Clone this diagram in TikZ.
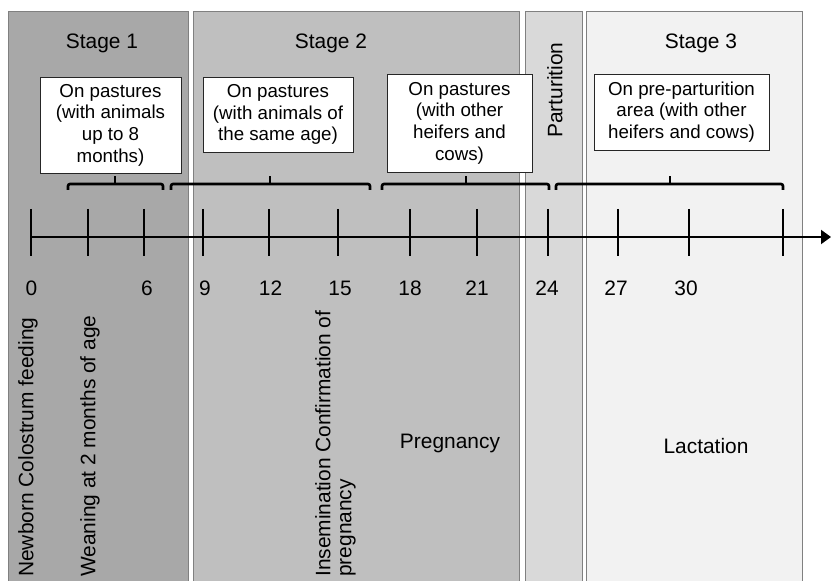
\documentclass[tikz,border=0pt]{standalone}
\usepackage{fontspec}
\setmainfont{Liberation Sans}
\usetikzlibrary{arrows.meta}

\definecolor{stageone}{gray}{0.66}
\definecolor{stagetwo}{gray}{0.75}
\definecolor{birth}{gray}{0.85}
\definecolor{stagethree}{gray}{0.95}

\tikzset{
	panel/.style={draw=black!50,line width=0.9bp},
	infobox/.style={draw=black!85,fill=white,line width=0.9bp,inner sep=0pt,align=center,font=\fontsize{18.8}{21.7}\selectfont},
	label/.style={inner sep=0pt,font=\fontsize{21}{21}\selectfont},
	sidetext/.style={label,rotate=90,anchor=north west,align=left},
	bracket/.style={line width=2.6bp,rounded corners=2bp},
	tick/.style={line width=2bp}
}

\begin{document}
\begin{tikzpicture}[x=1bp,y=-1bp]
	\useasboundingbox (0,0) rectangle (831,581);
	\fill[white] (0,0) rectangle (831,581);
	
	% stages
	\filldraw[panel,fill=stageone] (8,11) rectangle (188,590);
	\filldraw[panel,fill=stagetwo] (193,11) rectangle (519,590);
	\filldraw[panel,fill=birth] (525,11) rectangle (582,590);
	\filldraw[panel,fill=stagethree] (586,11) rectangle (802,590);
	
	\node[label,anchor=base] (stage1) at (102,49) {Stage 1};
	\node[label,anchor=base] (stage2) at (331,49) {Stage 2};
	\node[label,anchor=base] (stage3) at (701,49) {Stage 3};
	\node[sidetext] (partur) at (547,138) {Parturition};
	
	% time axis
	\draw[tick,-{Triangle[length=10bp,width=14bp]}] (31,237) -- (831,237);
	\foreach \x in {31,88,144,203,269,338,410,477,548,618,689,783}
		\draw[tick] (\x,209) -- (\x,256);
	
	\foreach \x/\m in {31.5/0,147/6,205/9,270.5/12,340/15,410/18,477/21,547/24,616/27,686/30}
		\node[label,anchor=base] (m\m) at (\x,295) {\m};
	
	% brackets
	\draw[bracket] (68,190) -- (68,184) -- (163,184) -- (163,190);
	\draw[bracket] (115,184) -- (115,176);
	\draw[bracket] (171,190) -- (171,184) -- (370,184) -- (370,190);
	\draw[bracket] (270,184) -- (270,176);
	\draw[bracket] (382,190) -- (382,184) -- (549,184) -- (549,190);
	\draw[bracket] (466,184) -- (466,176);
	\draw[bracket] (556,190) -- (556,184) -- (783,184) -- (783,190);
	\draw[bracket] (670,184) -- (670,176);
	
	% housing
	\node[infobox,minimum width=141bp,minimum height=96bp] (box1) at (110.5,125)
		{On pastures\\(with animals\\up to 8\\months)};
	\node[infobox,minimum width=150bp,minimum height=75bp] (box2) at (278,114.5)
		{On pastures\\(with animals of\\the same age)};
	\node[infobox,minimum width=145bp,minimum height=98bp] (box3) at (459.5,123)
		{On pastures\\(with other\\heifers and\\cows)};
	\node[infobox,minimum width=175bp,minimum height=76bp] (box4) at (681.5,112)
		{On pre-parturition\\area (with other\\heifers and cows)};
	
	% events
	\node[sidetext] (newborn) at (18,577) {Newborn Colostrum feeding};
	\node[sidetext] (weaning) at (80,577) {Weaning at 2 months of age};
	\node[sidetext] (insem) at (315,577) {Insemination Confirmation of\\pregnancy};
	\node[label,anchor=base] (pregn) at (450,448) {Pregnancy};
	\node[label,anchor=base] (lact) at (706,453) {Lactation};
	
\end{tikzpicture}
\end{document}
